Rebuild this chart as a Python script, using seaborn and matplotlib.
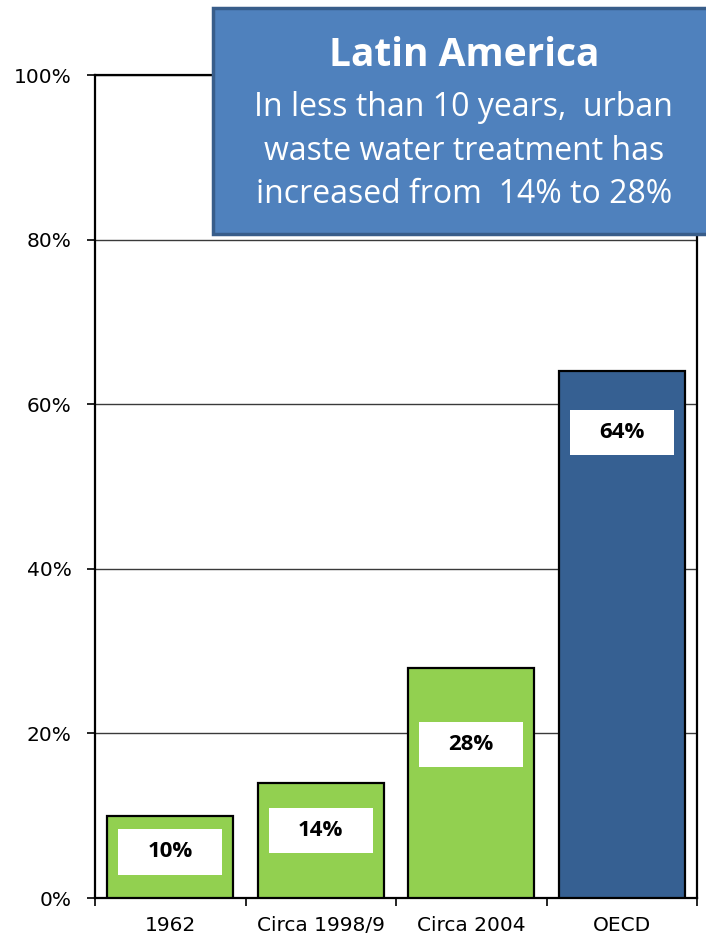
import matplotlib
matplotlib.use("Agg")
import matplotlib.pyplot as plt
from matplotlib.patches import Rectangle
from matplotlib.ticker import FixedLocator, PercentFormatter
import seaborn as sns
import pandas as pd

# Share of urban waste water that is treated
categories = ["1962", "Circa 1998/9", "Circa 2004", "OECD"]
treated_pct = [10, 14, 28, 64]
bar_colors = ["#92D050", "#92D050", "#92D050", "#366092"]
y_ticks = [0, 20, 40, 60, 80, 100]

title_text = "Latin America"
note_text = ("In less than 10 years,  urban\n"
             "waste water treatment has\n"
             "increased from  14% to 28%")

# how far below each bar top its value tag sits (in % units)
tag_drop = [4.4, 5.8, 9.3, 7.4]

sns.set_style("white")
plt.rcParams["font.family"] = ["DejaVu Sans"]

df = pd.DataFrame({"period": categories, "treated": treated_pct})

fig = plt.figure(figsize=(7.06, 9.38), dpi=100)
ax = fig.add_axes([0.1346, 0.0426, 0.8527, 0.8774])

sns.barplot(data=df, x="period", y="treated", hue="period",
            palette=bar_colors, legend=False, width=0.84,
            edgecolor="black", linewidth=1.6, saturation=1, ax=ax, zorder=3)

ax.set_ylim(0, 100)
ax.set_xlim(-0.5, len(categories) - 0.5)
ax.set_yticks(y_ticks)
ax.yaxis.set_major_formatter(PercentFormatter(decimals=0))
ax.set_xlabel("")
ax.set_ylabel("")

ax.grid(axis="y", color="#3a3a3a", linewidth=1.0, zorder=0)
ax.set_axisbelow(True)
for s in ax.spines.values():
    s.set_visible(True)
    s.set_color("black")
    s.set_linewidth(1.6)

ax.tick_params(axis="y", which="major", left=True, length=6, width=1.2,
               direction="out", pad=11, labelsize=14.5, colors="black")
ax.tick_params(axis="x", which="major", bottom=False, length=0, pad=13,
               labelsize=14.5, colors="black")
ax.xaxis.set_minor_locator(FixedLocator([i - 0.5 for i in range(len(categories) + 1)]))
ax.tick_params(axis="x", which="minor", bottom=True, length=6, width=1.2,
               direction="out", color="black")

# white value tags inside each bar
tag_h = 5.5
for bar, val, drop in zip(ax.patches, treated_pct, tag_drop):
    cx = bar.get_x() + bar.get_width() / 2
    tag_w = bar.get_width() * 0.82
    cy = val - drop
    ax.add_patch(Rectangle((cx - tag_w / 2, cy - tag_h / 2), tag_w, tag_h,
                           facecolor="white", edgecolor="none", zorder=4))
    ax.text(cx, cy, f"{val}%", ha="center", va="center", fontsize=16,
            fontweight="bold", family=["Open Sans", "DejaVu Sans"],
            color="black", zorder=5)

# callout box in the top right
box = Rectangle((0.302, 0.7505), 0.72, 0.241, transform=fig.transFigure,
                facecolor="#4F81BD", edgecolor="#385D8A", linewidth=2.5,
                zorder=10, clip_on=False)
fig.patches.append(box)
fig.text(0.657, 0.941, title_text, ha="center", va="center", color="white",
         fontsize=28, fontweight="bold", family=["Open Sans", "DejaVu Sans"],
         zorder=11)
fig.text(0.657, 0.839, note_text, ha="center", va="center", color="white",
         fontsize=23, family=["Open Sans", "DejaVu Sans"], linespacing=1.42,
         zorder=11)

fig.savefig("out.png", dpi=100)
